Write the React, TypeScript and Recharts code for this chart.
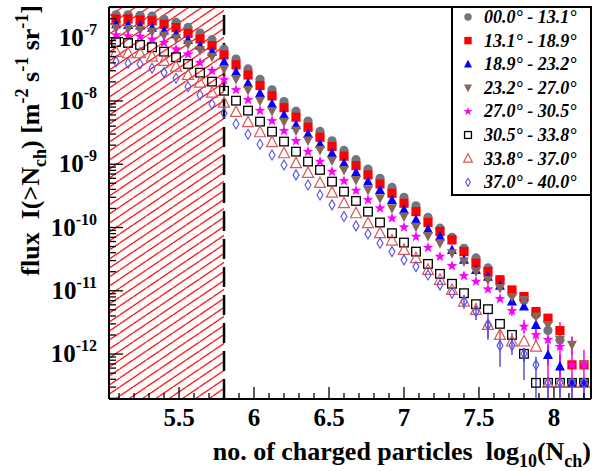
import React from 'react';
import {
  ScatterChart,
  Scatter,
  XAxis,
  YAxis,
  ReferenceArea,
  ReferenceLine,
  ErrorBar,
  Legend,
} from 'recharts';

// log10(Nch) bin positions
const logN = [
  5.08, 5.16, 5.24, 5.32, 5.4, 5.48, 5.56, 5.64, 5.72, 5.8,
  5.88, 5.96, 6.04, 6.12, 6.2, 6.28, 6.36, 6.44, 6.52, 6.6,
  6.68, 6.76, 6.84, 6.92, 7.0, 7.08, 7.16, 7.24, 7.32, 7.4,
  7.48, 7.56, 7.64, 7.72, 7.8, 7.88, 7.96, 8.04, 8.12, 8.2,
];

// integral flux per zenith angle bin [m^-2 s^-1 sr^-1]
const flux00 = [
  2.3e-7, 2.3e-7, 2.25e-7, 2.2e-7, 1.95e-7, 1.75e-7, 1.45e-7, 1.18e-7, 9.3e-8, 6.6e-8,
  4.6e-8, 3.2e-8, 2.2e-8, 1.5e-8, 9.8e-9, 6.9e-9, 4.8e-9, 3.3e-9, 2.35e-9, 1.65e-9,
  1.18e-9, 8.4e-10, 6.0e-10, 4.3e-10, 3.0e-10, 2.2e-10, 1.45e-10, 9.75e-11, 7.0e-11, 4.7e-11,
  3.3e-11, 2.3e-11, 1.5e-11, 9.0e-12, 7.0e-12, 4.2e-12, 2.35e-12, 1.67e-12, 3.51e-13, 3.51e-13,
];
const flux13 = [
  1.97e-7, 1.97e-7, 1.9e-7, 1.84e-7, 1.63e-7, 1.44e-7, 1.17e-7, 9.54e-8, 7.47e-8, 5.33e-8,
  3.71e-8, 2.57e-8, 1.75e-8, 1.2e-8, 7.83e-9, 5.53e-9, 3.84e-9, 2.67e-9, 1.9e-9, 1.34e-9,
  9.5e-10, 6.78e-10, 4.88e-10, 3.48e-10, 2.42e-10, 1.78e-10, 1.2e-10, 8.61e-11, 6.37e-11, 4.16e-11,
  2.73e-11, 2.01e-11, 1.49e-11, 1.03e-11, 8.1e-12, 4.69e-12, 3.69e-12, 2.35e-12, 6.75e-13, 6.75e-13,
];
const flux18 = [
  1.63e-7, 1.59e-7, 1.55e-7, 1.44e-7, 1.28e-7, 1.13e-7, 9.2e-8, 7.47e-8, 6.01e-8, 4.13e-8,
  2.87e-8, 1.9e-8, 1.32e-8, 8.97e-9, 6.01e-9, 4.18e-9, 3.01e-9, 2.09e-9, 1.49e-9, 1.04e-9,
  7.37e-10, 5.31e-10, 3.93e-10, 2.73e-10, 1.9e-10, 1.32e-10, 9.4e-11, 7.18e-11, 4.43e-11, 3.08e-11,
  2.14e-11, 1.66e-11, 1.2e-11, 6.75e-12, 5.63e-12, 2.89e-12, 9.71e-13, 6.34e-13, 3.51e-13, 3.51e-13,
];
const flux23 = [
  1.41e-7, 1.37e-7, 1.32e-7, 1.24e-7, 1.08e-7, 9.78e-8, 7.87e-8, 6.39e-8, 5.01e-8, 3.2e-8,
  2.23e-8, 1.49e-8, 1.01e-8, 6.95e-9, 4.71e-9, 3.4e-9, 2.36e-9, 1.68e-9, 1.14e-9, 8.13e-10,
  5.65e-10, 3.93e-10, 2.9e-10, 2.02e-10, 1.49e-10, 1.03e-10, 7.37e-11, 5.65e-11, 3.93e-11, 2.89e-11,
  2.01e-11, 1.49e-11, 1.11e-11, 8.01e-12, 7.18e-12, 3.91e-12, 2.89e-12, 1.68e-12, 1.4e-12, 6.75e-13,
];
const flux27 = [
  1.1e-7, 1.06e-7, 1.04e-7, 9.43e-8, 8.34e-8, 6.56e-8, 5.47e-8, 4.03e-8, 3.01e-8, 2.15e-8,
  1.49e-8, 1.04e-8, 7.03e-9, 4.83e-9, 3.36e-9, 2.33e-9, 1.58e-9, 1.1e-9, 7.64e-10, 5.45e-10,
  3.83e-10, 2.73e-10, 2.02e-10, 1.4e-10, 1.01e-10, 7.18e-11, 4.81e-11, 3.47e-11, 2.47e-11, 1.72e-11,
  1.4e-11, 1.06e-11, 7.45e-12, 4.81e-12, 2.72e-12, 2.01e-12, 1.68e-12, 1.31e-12, 6.75e-13, 6.75e-13,
];
const flux30 = [
  8.55e-8, 8.25e-8, 7.67e-8, 7.05e-8, 6.01e-8, 4.9e-8, 3.84e-8, 2.8e-8, 2.02e-8, 1.45e-8,
  1.01e-8, 7.03e-9, 4.71e-9, 3.27e-9, 2.28e-9, 1.58e-9, 1.1e-9, 8.13e-10, 5.31e-10, 3.69e-10,
  2.63e-10, 1.78e-10, 1.2e-10, 8.13e-11, 5.78e-11, 4.16e-11, 2.66e-11, 1.85e-11, 1.29e-11, 9.16e-12,
  6.14e-12, 5.12e-12, 3.0e-12, 2.01e-12, 1.01e-12, 3.51e-13, 3.51e-13, 3.51e-13, 3.51e-13, 3.51e-13,
];
const flux33 = [
  5.94e-8, 5.67e-8, 5.67e-8, 5.01e-8, 4.28e-8, 3.48e-8, 2.57e-8, 1.95e-8, 1.35e-8, 9.4e-9,
  6.7e-9, 4.61e-9, 3.2e-9, 2.23e-9, 1.49e-9, 1.04e-9, 7.29e-10, 5.06e-10, 3.56e-10, 2.42e-10,
  1.68e-10, 1.17e-10, 8.13e-11, 6.21e-11, 4.43e-11, 3.27e-11, 2.14e-11, 1.49e-11, 1.03e-11, 6.75e-12,
  4.99e-12, 2.89e-12, 2.01e-12, 1.58e-12, 1.58e-12, 1.31e-12, 3.51e-13, 3.51e-13, 3.51e-13, 3.51e-13,
];
const flux37 = [
  4.18e-8, 3.94e-8, 3.84e-8, 3.29e-8, 2.8e-8, 2.28e-8, 1.68e-8, 1.24e-8, 8.97e-9, 6.39e-9,
  4.33e-9, 2.98e-9, 2.07e-9, 1.4e-9, 9.75e-10, 6.78e-10, 4.71e-10, 3.27e-10, 2.28e-10, 1.49e-10,
  1.06e-10, 7.92e-11, 5.65e-11, 4.16e-11, 3.08e-11, 2.41e-11, 1.78e-11, 1.24e-11, 9.16e-12, 6.75e-12,
  4.69e-12, 2.89e-12, 1.36e-12, 1.36e-12, 1.01e-12, 6.75e-13, 3.51e-13, 3.51e-13, 3.51e-13, 3.51e-13,
];

// error bars: [bin index, lower flux, upper flux]
const err18 = [[36, 6.75e-13, 1.4e-12], [37, 3.91e-13, 9.71e-13]];
const err23 = [[38, 9.71e-13, 1.87e-12]];
const err27 = [
  [33, 4.0e-12, 5.8e-12], [34, 2.1e-12, 3.5e-12], [35, 1.6e-12, 2.5e-12],
  [36, 1.95e-13, 3.11e-12], [37, 1.95e-13, 3.2e-12], [38, 1.95e-13, 1.87e-12], [39, 1.95e-13, 1.165e-12],
];
const err30 = [[34, 7.53e-13, 1.25e-12]];
const err33 = [[31, 1.8e-12, 3.73e-12], [32, 1.56e-12, 2.59e-12]];
const err37 = [
  [29, 5.18e-12, 8.61e-12], [30, 3.47e-12, 6.44e-12], [31, 1.68e-12, 4.48e-12],
  [32, 6.28e-13, 1.68e-12], [33, 9.71e-13, 2.16e-12], [34, 3.91e-13, 1.25e-12],
  [35, 1.95e-13, 9.03e-13], [36, 1.95e-13, 3.51e-13], [37, 1.95e-13, 3.51e-13],
  [38, 1.95e-13, 3.51e-13], [39, 1.95e-13, 3.51e-13],
];

const legendLabels = [
  '00.0° - 13.1°', '13.1° - 18.9°', '18.9° - 23.2°', '23.2° - 27.0°',
  '27.0° - 30.5°', '30.5° - 33.8°', '33.8° - 37.0°', '37.0° - 40.0°',
];

const xTicks = [
  5.1, 5.2, 5.3, 5.4, 5.5, 5.6, 5.7, 5.8, 5.9, 6.0, 6.1, 6.2, 6.3, 6.4, 6.5, 6.6,
  6.7, 6.8, 6.9, 7.0, 7.1, 7.2, 7.3, 7.4, 7.5, 7.6, 7.7, 7.8, 7.9, 8.0, 8.1, 8.2,
];
const decades = [-13, -12, -11, -10, -9, -8, -7];
const mantissas = [1, 2, 3, 4, 5, 6, 7, 8, 9];

const X_MIN = 5.033;
const X_MAX = 8.247;
const Y_MIN = 1.95e-13;
const Y_MAX = 3.05e-7;
const CUT = 5.8;

const FONT = '"Liberation Serif", "Times New Roman", serif';

const yTicks = decades
  .flatMap((d) => mantissas.map((m) => m * Math.pow(10, d)))
  .filter((v) => v >= Y_MIN && v <= Y_MAX);

type Kind = 'circle' | 'square' | 'tri' | 'itri' | 'star' | 'osquare' | 'otri' | 'odiamond';

function starPoints(cx: number, cy: number, R: number, r: number) {
  const pts: string[] = [];
  for (let k = 0; k < 10; k++) {
    const a = -Math.PI / 2 + (k * Math.PI) / 5;
    const rr = k % 2 === 0 ? R : r;
    pts.push(`${cx + rr * Math.cos(a)},${cy + rr * Math.sin(a)}`);
  }
  return pts.join(' ');
}

function Marker({ kind, cx, cy, color, s = 1 }: { kind: Kind; cx: number; cy: number; color: string; s?: number }) {
  if (cx == null || cy == null || isNaN(cx) || isNaN(cy)) return null;
  switch (kind) {
    case 'circle':
      return <circle cx={cx} cy={cy} r={4.6 * s} fill={color} />;
    case 'square':
      return <rect x={cx - 4.6 * s} y={cy - 4.6 * s} width={9.2 * s} height={9.2 * s} fill={color} />;
    case 'tri':
      return (
        <polygon
          points={`${cx},${cy - 5.5 * s} ${cx - 5 * s},${cy + 4 * s} ${cx + 5 * s},${cy + 4 * s}`}
          fill={color}
        />
      );
    case 'itri':
      return (
        <polygon
          points={`${cx - 5 * s},${cy - 4 * s} ${cx + 5 * s},${cy - 4 * s} ${cx},${cy + 5.5 * s}`}
          fill={color}
        />
      );
    case 'star':
      return <polygon points={starPoints(cx, cy, 5.6 * s, 2.3 * s)} fill={color} />;
    case 'osquare':
      return (
        <rect
          x={cx - 4.3 * s}
          y={cy - 4.3 * s}
          width={8.6 * s}
          height={8.6 * s}
          fill="none"
          stroke={color}
          strokeWidth={1.3}
        />
      );
    case 'otri':
      return (
        <polygon
          points={`${cx},${cy - 6 * s} ${cx - 5.5 * s},${cy + 4.5 * s} ${cx + 5.5 * s},${cy + 4.5 * s}`}
          fill="none"
          stroke={color}
          strokeWidth={1.2}
        />
      );
    case 'odiamond':
      return (
        <polygon
          points={`${cx},${cy - 5 * s} ${cx + 3 * s},${cy} ${cx},${cy + 5 * s} ${cx - 3 * s},${cy}`}
          fill="none"
          stroke={color}
          strokeWidth={1.1}
        />
      );
  }
  return null;
}

const buildRows = (vals: number[], errs: number[][]) =>
  vals.map((v, i) => {
    const e = errs.find((t) => t[0] === i);
    return { x: logN[i], y: v, err: e ? [v - e[1], e[2] - v] : undefined };
  });

const series: { key: string; vals: number[]; errs: number[][]; kind: Kind; color: string }[] = [
  { key: 's00', vals: flux00, errs: [], kind: 'circle', color: '#6e7780' },
  { key: 's13', vals: flux13, errs: [], kind: 'square', color: '#ff0000' },
  { key: 's18', vals: flux18, errs: err18, kind: 'tri', color: '#0000ff' },
  { key: 's23', vals: flux23, errs: err23, kind: 'itri', color: '#84675a' },
  { key: 's27', vals: flux27, errs: err27, kind: 'star', color: '#ff00ff' },
  { key: 's30', vals: flux30, errs: err30, kind: 'osquare', color: '#000000' },
  { key: 's33', vals: flux33, errs: err33, kind: 'otri', color: '#d95757' },
  { key: 's37', vals: flux37, errs: err37, kind: 'odiamond', color: '#5252e8' },
];

function XTick(props: any) {
  const { x, y, payload } = props;
  const v = payload.value as number;
  const major = Math.abs(v * 2 - Math.round(v * 2)) < 1e-6;
  return (
    <g>
      <line x1={x} x2={x} y1={y} y2={y - (major ? 12 : 6)} stroke="#000" strokeWidth={1.3} />
      {major && (
        <text x={x} y={y + 27} textAnchor="middle" fontFamily={FONT} fontWeight="bold" fontSize={25} fill="#000">
          {String(v)}
        </text>
      )}
    </g>
  );
}

function YTick(props: any) {
  const { x, y, payload } = props;
  const v = payload.value as number;
  const e = Math.round(Math.log10(v));
  const major = Math.abs(v / Math.pow(10, e) - 1) < 1e-6;
  return (
    <g>
      <line x1={x} x2={x + (major ? 14 : 7)} y1={y} y2={y} stroke="#000" strokeWidth={1.3} />
      {major && (
        <text x={x - 12} y={y + 8} textAnchor="end" fontFamily={FONT} fontWeight="bold" fontSize={25} fill="#000">
          10
          <tspan fontSize={16} dy={-11}>
            {String(e)}
          </tspan>
        </text>
      )}
    </g>
  );
}

function XTitle() {
  return (
    <text
      x={591}
      y={460}
      textAnchor="end"
      fontFamily={FONT}
      fontWeight="bold"
      fontSize={26}
      fill="#000"
      style={{ whiteSpace: 'pre' }}
    >
      {'no. of charged particles  log'}
      <tspan fontSize={18} dy={7}>10</tspan>
      <tspan dy={-7}>(N</tspan>
      <tspan fontSize={18} dy={7}>ch</tspan>
      <tspan dy={-7}>)</tspan>
    </text>
  );
}

function YTitle() {
  return (
    <text
      x={39}
      y={5}
      transform="rotate(-90 39 5)"
      textAnchor="end"
      fontFamily={FONT}
      fontWeight="bold"
      fontSize={26}
      fill="#000"
      style={{ whiteSpace: 'pre' }}
    >
      {'flux  I(>N'}
      <tspan fontSize={18} dy={7}>ch</tspan>
      <tspan dy={-7}>{') [m'}</tspan>
      <tspan fontSize={18} dy={-11}>-2</tspan>
      <tspan dy={11}>{' s'}</tspan>
      <tspan fontSize={18} dy={-11}>-1</tspan>
      <tspan dy={11}>{' sr'}</tspan>
      <tspan fontSize={18} dy={-11}>-1</tspan>
      <tspan dy={11}>]</tspan>
    </text>
  );
}

function LegendBox() {
  return (
    <svg width={141} height={190} style={{ display: 'block' }}>
      <rect x={1} y={1} width={139} height={188} fill="#fff" stroke="#000" strokeWidth={2} />
      {series.map((s, i) => {
        const cy = 11 + i * 23.6;
        return (
          <g key={s.key}>
            <Marker kind={s.kind} cx={17} cy={cy} color={s.color} s={0.8} />
            <text
              x={33}
              y={cy + 6}
              fontFamily={FONT}
              fontWeight="bold"
              fontStyle="italic"
              fontSize={18}
              fill="#000"
            >
              {legendLabels[i]}
            </text>
          </g>
        );
      })}
    </svg>
  );
}

export default function App() {
  return (
    <div style={{ position: 'absolute', left: 0, top: 0, width: 592, height: 471, background: '#fff' }}>
      <ScatterChart width={592} height={471} margin={{ top: 7, right: 1, left: 0, bottom: 0 }}>
        <defs>
          <pattern id="hatch" patternUnits="userSpaceOnUse" width={13.3} height={9}>
            <line x1={0} y1={9} x2={13.3} y2={0} stroke="#ff0000" strokeWidth={1.2} />
            <line x1={-13.3} y1={9} x2={0} y2={0} stroke="#ff0000" strokeWidth={1.2} />
            <line x1={13.3} y1={9} x2={26.6} y2={0} stroke="#ff0000" strokeWidth={1.2} />
          </pattern>
        </defs>
        <XAxis
          type="number"
          dataKey="x"
          domain={[X_MIN, X_MAX]}
          allowDataOverflow
          ticks={xTicks}
          interval={0}
          tick={<XTick />}
          tickLine={false}
          tickSize={0}
          tickMargin={0}
          height={72}
          axisLine={{ stroke: '#000', strokeWidth: 2 }}
          label={<XTitle />}
        />
        <YAxis
          type="number"
          dataKey="y"
          scale="log"
          domain={[Y_MIN, Y_MAX]}
          allowDataOverflow
          ticks={yTicks}
          interval={0}
          tick={<YTick />}
          tickLine={false}
          tickSize={0}
          tickMargin={0}
          width={109}
          axisLine={{ stroke: '#000', strokeWidth: 2 }}
          label={<YTitle />}
        />
        <ReferenceArea x1={X_MIN} x2={CUT} y1={Y_MIN} y2={Y_MAX} fill="url(#hatch)" fillOpacity={1} stroke="none" />
        <ReferenceLine x={CUT} stroke="#000" strokeWidth={2.5} strokeDasharray="20 8" />
        <ReferenceLine y={Y_MAX} stroke="#000" strokeWidth={2} />
        <ReferenceLine x={X_MAX} stroke="#000" strokeWidth={2} />
        {series.map((s) => (
          <Scatter
            key={s.key}
            name={s.key}
            data={buildRows(s.vals, s.errs)}
            isAnimationActive={false}
            shape={(p: any) => <Marker kind={s.kind} cx={p.cx} cy={p.cy} color={s.color} />}
          >
            <ErrorBar dataKey="err" direction="y" width={0} stroke={s.color} strokeWidth={1.5} />
          </Scatter>
        ))}
        <Legend
          layout="vertical"
          align="center"
          verticalAlign="middle"
          content={() => <LegendBox />}
          wrapperStyle={{ left: 451, top: 6, width: 141, height: 190 }}
        />
      </ScatterChart>
    </div>
  );
}
